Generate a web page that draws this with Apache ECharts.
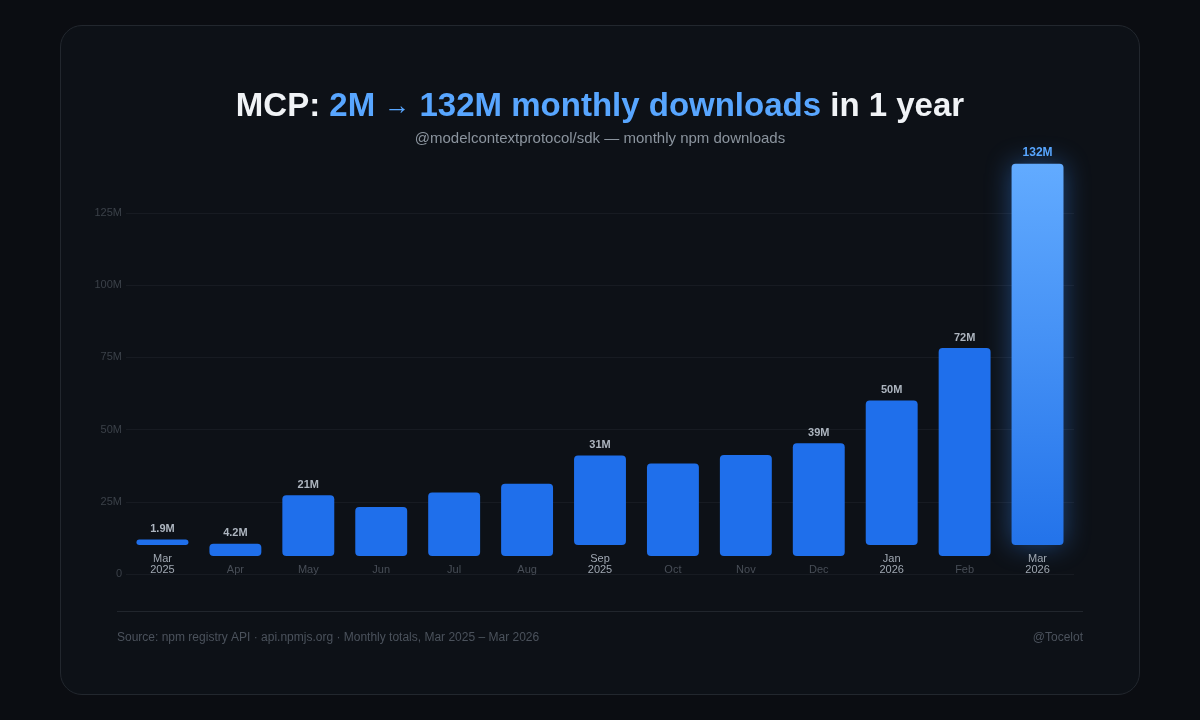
<!DOCTYPE html>
<html><head><meta charset="utf-8">
<script src="https://cdn.jsdelivr.net/npm/echarts@6/dist/echarts.min.js"></script>
<style>
html,body{margin:0;padding:0;background:#0b0d12;}
#card{position:absolute;left:60px;top:25px;width:1080px;height:670px;border:1px solid #22272e;border-radius:22px;background:#0d1117;box-sizing:border-box;}
#c{position:absolute;left:0;top:0;width:1200px;height:720px;}
</style>
</head><body>
<div id="card"></div>
<div id="c"></div>
<script>
// Data (values in millions of monthly downloads)
const months = ['Mar\n2025','Apr','May','Jun','Jul','Aug','Sep\n2025','Oct','Nov','Dec','Jan\n2026','Feb','Mar\n2026'];
const downloads = [1.9, 4.2, 21, 17, 22, 25, 31, 32, 35, 39, 50, 72, 132];
const valueLabels = ['1.9M','4.2M','21M','','','','31M','','','39M','50M','72M','132M'];
const yTicks = [0, 25, 50, 75, 100, 125];

const FONT = '"Liberation Sans", Arial, Helvetica, sans-serif';
const chart = echarts.init(document.getElementById('c'), null, {renderer:'canvas'});

function renderItem(params, api) {
  const i = params.dataIndex;
  const v = api.value(1);
  const base = api.coord([api.value(0), 0]);
  const top = api.coord([api.value(0), v]);
  const bw = api.size([1, 0])[0] * 0.712;
  const lines = months[i].split('\n').length;
  const lift = 7 + lines * 11;
  const isLast = i === months.length - 1;
  const x = base[0] - bw / 2;
  const y = top[1] - lift;
  const h = base[1] - top[1];
  const children = [{
    type: 'rect',
    shape: {x: x, y: y, width: bw, height: h, r: 4},
    style: isLast ? {
      fill: new echarts.graphic.LinearGradient(0, 0, 0, 1, [
        {offset: 0, color: '#62abff'},
        {offset: 1, color: '#2373ea'}
      ]),
      shadowBlur: 26,
      shadowColor: 'rgba(56,139,253,0.42)'
    } : {fill: '#1f6feb'}
  }];
  if (valueLabels[i]) {
    children.push({
      type: 'text',
      style: {
        text: valueLabels[i], x: base[0], y: y - 5,
        align: 'center', verticalAlign: 'bottom',
        fill: isLast ? '#58a6ff' : '#adb5bf',
        font: 'bold ' + (isLast ? 12 : 11) + 'px ' + FONT
      }
    });
  }
  children.push({
    type: 'text',
    style: {
      text: months[i], x: base[0], y: base[1] + 1,
      align: 'center', verticalAlign: 'bottom', lineHeight: 11,
      fill: lines > 1 ? '#a0a8b2' : '#484e57',
      font: '11px ' + FONT
    }
  });
  return {type: 'group', children: children};
}

chart.setOption({
  backgroundColor: 'transparent',
  animation: false,
  grid: {left: 126, right: 126, top: 213, bottom: 146},
  xAxis: {
    type: 'category', data: months, boundaryGap: true,
    axisLine: {show: false}, axisTick: {show: false}, axisLabel: {show: false}
  },
  yAxis: {
    type: 'value',
    min: yTicks[0], max: yTicks[yTicks.length - 1], interval: yTicks[1] - yTicks[0],
    axisLine: {show: false}, axisTick: {show: false},
    axisLabel: {
      color: '#3b4149', fontSize: 11, fontFamily: FONT, margin: 4,
      formatter: v => v === 0 ? '0' : v + 'M'
    },
    splitLine: {lineStyle: {color: '#171b22', width: 1}}
  },
  series: [{
    type: 'custom',
    renderItem: renderItem,
    clip: false,
    encode: {x: 0, y: 1},
    data: downloads.map((v, i) => [i, v])
  }],
  graphic: [
    {
      type: 'text', left: 'center', top: 90,
      style: {
        text: '{w|MCP: }{b|2M }{a|→}{b| 132M monthly downloads}{w| in 1 year}',
        rich: {
          w: {fill: '#f0f3f6', font: 'bold 33px ' + FONT},
          b: {fill: '#58a6ff', font: 'bold 33px ' + FONT},
          a: {fill: '#58a6ff', font: '26px ' + FONT}
        }
      }
    },
    {
      type: 'text', left: 'center', top: 131,
      style: {text: '@modelcontextprotocol/sdk — monthly npm downloads', fill: '#8b949e', font: '15px ' + FONT}
    },
    {
      type: 'line', shape: {x1: 117, y1: 611.5, x2: 1083, y2: 611.5},
      style: {stroke: '#21262d', lineWidth: 1}
    },
    {
      type: 'text', left: 117, top: 632,
      style: {text: 'Source: npm registry API · api.npmjs.org · Monthly totals, Mar 2025 – Mar 2026', fill: '#4b525c', font: '12px ' + FONT}
    },
    {
      type: 'text', right: 117, top: 632,
      style: {text: '@Tocelot', fill: '#4b525c', font: '12px ' + FONT}
    }
  ]
});
</script>
</body></html>
